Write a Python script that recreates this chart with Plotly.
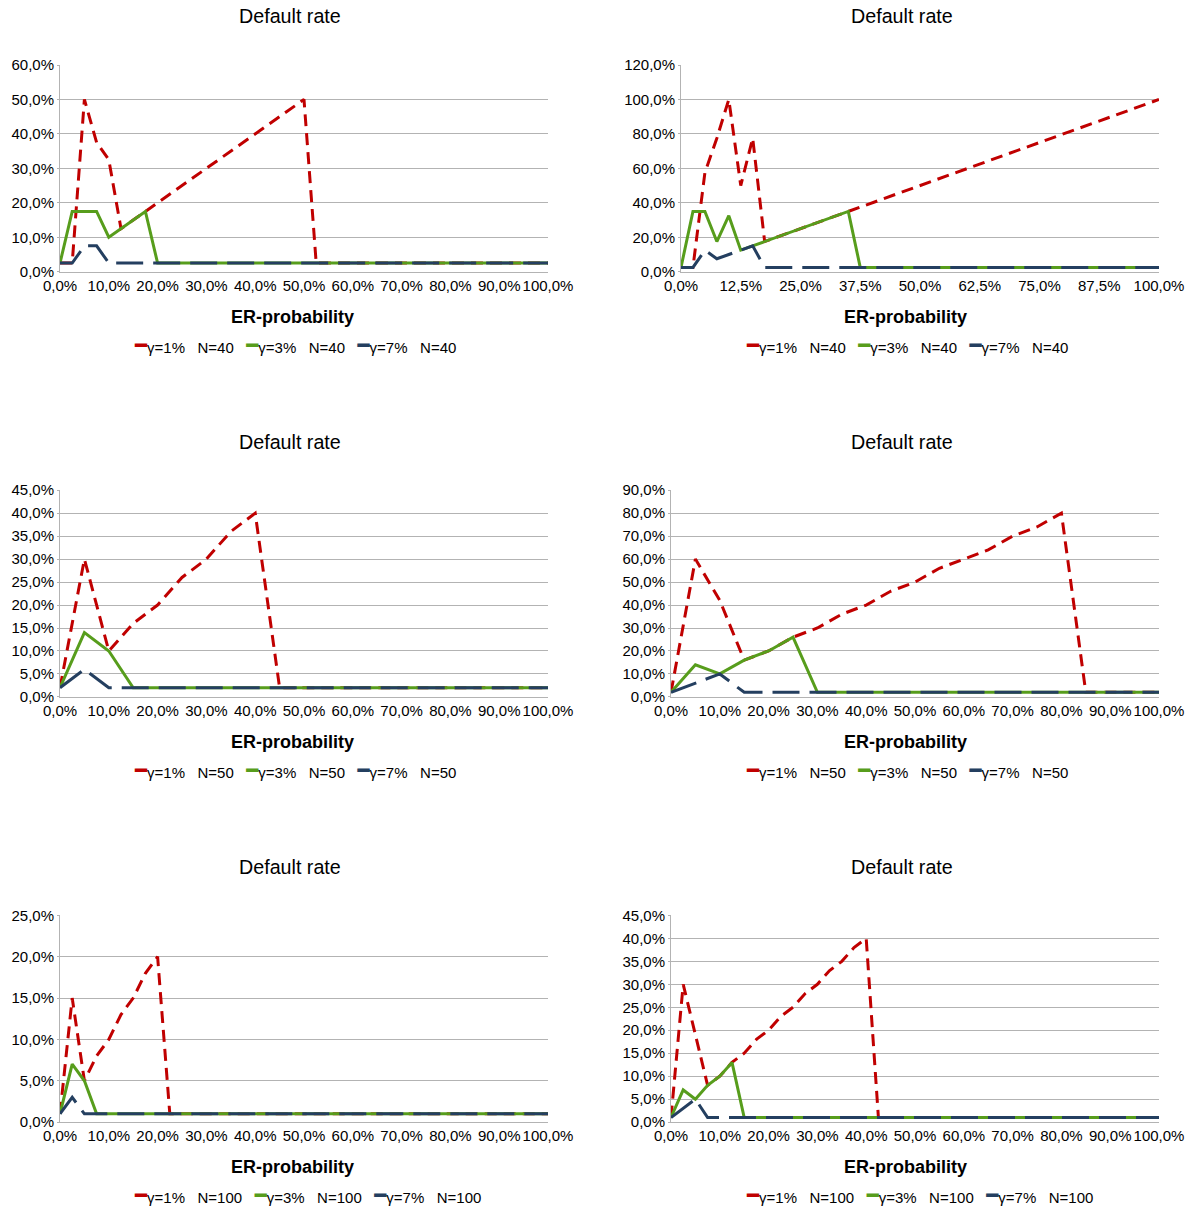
import plotly.graph_objects as go

W, H = 1197, 1212
RED, GREEN, BLUE = "#c00000", "#579d1c", "#243f60"
GRID = "#b3b3b3"
FONT = "Liberation Sans, Arial, sans-serif"

# ---------------- data (values in %) ----------------
X_STEP_2_5 = [0, 2.5, 5, 7.5, 10, 12.5, 15, 17.5, 20, 22.5,
              25, 27.5, 30, 32.5, 35, 37.5, 40, 42.5, 45, 47.5,
              50, 52.5, 55, 57.5, 60, 62.5, 65, 67.5, 70, 72.5,
              75, 77.5, 80, 82.5, 85, 87.5, 90, 92.5, 95, 97.5,
              100]
X_STEP_5 = [0, 5, 10, 15, 20, 25, 30, 35, 40, 45,
            50, 55, 60, 65, 70, 75, 80, 85, 90, 95,
            100]

# panel 1: N=40
P1_G1 = [2.5, 2.5, 50, 37.5, 32.5, 12.5, 15, 17.5, 20, 22.5,
         25, 27.5, 30, 32.5, 35, 37.5, 40, 42.5, 45, 47.5,
         50, 2.5, 2.5, 2.5, 2.5, 2.5, 2.5, 2.5, 2.5, 2.5,
         2.5, 2.5, 2.5, 2.5, 2.5, 2.5, 2.5, 2.5, 2.5, 2.5,
         2.5]
P1_G3 = [2.5, 17.5, 17.5, 17.5, 10, 12.5, 15, 17.5, 2.5, 2.5,
         2.5, 2.5, 2.5, 2.5, 2.5, 2.5, 2.5, 2.5, 2.5, 2.5,
         2.5, 2.5, 2.5, 2.5, 2.5, 2.5, 2.5, 2.5, 2.5, 2.5,
         2.5, 2.5, 2.5, 2.5, 2.5, 2.5, 2.5, 2.5, 2.5, 2.5,
         2.5]
P1_G7 = [2.5, 2.5, 7.5, 7.5, 2.5, 2.5, 2.5, 2.5, 2.5, 2.5,
         2.5, 2.5, 2.5, 2.5, 2.5, 2.5, 2.5, 2.5, 2.5, 2.5,
         2.5, 2.5, 2.5, 2.5, 2.5, 2.5, 2.5, 2.5, 2.5, 2.5,
         2.5, 2.5, 2.5, 2.5, 2.5, 2.5, 2.5, 2.5, 2.5, 2.5,
         2.5]

# panel 2: N=40
P2_G1 = [2.5, 2.5, 57.5, 77.5, 100, 50, 77.5, 17.5, 20, 22.5,
         25, 27.5, 30, 32.5, 35, 37.5, 40, 42.5, 45, 47.5,
         50, 52.5, 55, 57.5, 60, 62.5, 65, 67.5, 70, 72.5,
         75, 77.5, 80, 82.5, 85, 87.5, 90, 92.5, 95, 97.5,
         100]
P2_G3 = [2.5, 35, 35, 17.5, 32.5, 12.5, 15, 17.5, 20, 22.5,
         25, 27.5, 30, 32.5, 35, 2.5, 2.5, 2.5, 2.5, 2.5,
         2.5, 2.5, 2.5, 2.5, 2.5, 2.5, 2.5, 2.5, 2.5, 2.5,
         2.5, 2.5, 2.5, 2.5, 2.5, 2.5, 2.5, 2.5, 2.5, 2.5,
         2.5]
P2_G7 = [2.5, 2.5, 12.5, 7.5, 10, 12.5, 15, 2.5, 2.5, 2.5,
         2.5, 2.5, 2.5, 2.5, 2.5, 2.5, 2.5, 2.5, 2.5, 2.5,
         2.5, 2.5, 2.5, 2.5, 2.5, 2.5, 2.5, 2.5, 2.5, 2.5,
         2.5, 2.5, 2.5, 2.5, 2.5, 2.5, 2.5, 2.5, 2.5, 2.5,
         2.5]

# panel 3: N=50
P3_G1 = [2, 30, 10, 16, 20, 26, 30, 36, 40, 2,
         2, 2, 2, 2, 2, 2, 2, 2, 2, 2,
         2]
P3_G3 = [2, 14, 10, 2, 2, 2, 2, 2, 2, 2,
         2, 2, 2, 2, 2, 2, 2, 2, 2, 2,
         2]
P3_G7 = [2, 6, 2, 2, 2, 2, 2, 2, 2, 2,
         2, 2, 2, 2, 2, 2, 2, 2, 2, 2,
         2]

# panel 4: N=50
P4_G1 = [2, 60, 42, 16, 20, 26, 30, 36, 40, 46,
         50, 56, 60, 64, 70, 74, 80, 2, 2, 2,
         2]
P4_G3 = [2, 14, 10, 16, 20, 26, 2, 2, 2, 2,
         2, 2, 2, 2, 2, 2, 2, 2, 2, 2,
         2]
P4_G7 = [2, 6, 10, 2, 2, 2, 2, 2, 2, 2,
         2, 2, 2, 2, 2, 2, 2, 2, 2, 2,
         2]

# panel 5: N=100
P5_G1 = [1, 15, 5, 8, 10, 13, 15, 18, 20, 1,
         1, 1, 1, 1, 1, 1, 1, 1, 1, 1,
         1, 1, 1, 1, 1, 1, 1, 1, 1, 1,
         1, 1, 1, 1, 1, 1, 1, 1, 1, 1,
         1]
P5_G3 = [1, 7, 5, 1, 1, 1, 1, 1, 1, 1,
         1, 1, 1, 1, 1, 1, 1, 1, 1, 1,
         1, 1, 1, 1, 1, 1, 1, 1, 1, 1,
         1, 1, 1, 1, 1, 1, 1, 1, 1, 1,
         1]
P5_G7 = [1, 3, 1, 1, 1, 1, 1, 1, 1, 1,
         1, 1, 1, 1, 1, 1, 1, 1, 1, 1,
         1, 1, 1, 1, 1, 1, 1, 1, 1, 1,
         1, 1, 1, 1, 1, 1, 1, 1, 1, 1,
         1]

# panel 6: N=100
P6_G1 = [1, 30, 19, 8, 10, 13, 15, 18, 20, 23,
         25, 28, 30, 33, 35, 38, 40, 1, 1, 1,
         1, 1, 1, 1, 1, 1, 1, 1, 1, 1,
         1, 1, 1, 1, 1, 1, 1, 1, 1, 1,
         1]
P6_G3 = [1, 7, 5, 8, 10, 13, 1, 1, 1, 1,
         1, 1, 1, 1, 1, 1, 1, 1, 1, 1,
         1, 1, 1, 1, 1, 1, 1, 1, 1, 1,
         1, 1, 1, 1, 1, 1, 1, 1, 1, 1,
         1]
P6_G7 = [1, 3, 5, 1, 1, 1, 1, 1, 1, 1,
         1, 1, 1, 1, 1, 1, 1, 1, 1, 1,
         1, 1, 1, 1, 1, 1, 1, 1, 1, 1,
         1, 1, 1, 1, 1, 1, 1, 1, 1, 1,
         1]

N_VALUES = [40, 40, 50, 50, 100, 100]
Y_MAX = [60, 120, 45, 90, 25, 45]
Y_DTICK = [10, 20, 5, 10, 5, 5]
X_DTICK = [10, 12.5, 10, 10, 10, 10]
GAMMA_LABELS = ["γ=1%", "γ=3%", "γ=7%"]
TITLE = "Default rate"
X_TITLE = "ER-probability"

PANEL_X = [X_STEP_2_5, X_STEP_2_5, X_STEP_5, X_STEP_5, X_STEP_2_5, X_STEP_2_5]
PANEL_SERIES = [
    [P1_G1, P1_G3, P1_G7],
    [P2_G1, P2_G3, P2_G7],
    [P3_G1, P3_G3, P3_G7],
    [P4_G1, P4_G3, P4_G7],
    [P5_G1, P5_G3, P5_G7],
    [P6_G1, P6_G3, P6_G7],
]

# ---------------- styling / layout ----------------
COLORS = [RED, GREEN, BLUE]
DASHES = ["12px,7px", "solid", "27px,10px"]

# plot-area pixel boxes (left, right) per panel, rows (top, bottom)
X_BOX = [(60, 548), (681, 1159), (60, 548), (671, 1159), (60, 548), (671, 1159)]
ROW_BOX = [(65, 271.7), (490.2, 696.9), (915.4, 1122.1)]
ROW_SHIFT = [0, 425.2, 850.4]
TITLE_X = [290, 902]
XTITLE_X = [292.5, 905]
LEGEND_X = [131.7, 743.5]


def px(xp):
    return xp / W


def py(yp):
    return 1 - yp / H


fig = go.Figure()
layout = dict(
    template="none",
    width=W, height=H, autosize=False,
    margin=dict(l=0, r=0, t=0, b=0, pad=0),
    paper_bgcolor="white", plot_bgcolor="white",
    separators=", ",
    showlegend=False,
    font=dict(family=FONT, size=15, color="#000000"),
    annotations=[],
)

SYM = ('<span style="font-family:DejaVu Sans;font-size:20px;'
       'baseline-shift:1px;color:{c}">━</span>')
NB = "\u00a0"

for i in range(6):
    n = i + 1
    xs = PANEL_X[i]
    col = i % 2
    row = i // 2
    xa = "x" if n == 1 else f"x{n}"
    ya = "y" if n == 1 else f"y{n}"
    for ser, c, d, lab in zip(PANEL_SERIES[i], COLORS, DASHES, GAMMA_LABELS):
        assert len(ser) == len(xs)
        fig.add_trace(go.Scatter(
            x=xs, y=ser, mode="lines", name=f"{lab}   N={N_VALUES[i]}",
            line=dict(color=c, width=3, dash=d),
            xaxis=xa, yaxis=ya, hoverinfo="x+y+name",
        ))
    x0, x1 = X_BOX[i]
    y0, y1 = ROW_BOX[row]
    layout["xaxis" if n == 1 else f"xaxis{n}"] = dict(
        domain=[px(x0), px(x1)], anchor=ya, automargin=False,
        range=[0, 100], tick0=0, dtick=X_DTICK[i], tickangle=0,
        tickformat=".1f", ticksuffix="%",
        showgrid=False, zeroline=False,
        showline=True, linecolor=GRID, linewidth=1,
        ticks="", tickfont=dict(family=FONT, size=15, color="#000000"),
        fixedrange=True,
    )
    layout["yaxis" if n == 1 else f"yaxis{n}"] = dict(
        domain=[py(y1), py(y0)], anchor=xa, automargin=False,
        range=[0, Y_MAX[i]], tick0=0, dtick=Y_DTICK[i],
        tickformat=".1f", ticksuffix="%",
        showgrid=True, gridcolor=GRID, gridwidth=1,
        zeroline=False, showline=True, linecolor=GRID, linewidth=1,
        ticks="outside", ticklen=2, tickcolor=GRID,
        tickfont=dict(family=FONT, size=15, color="#000000"),
        fixedrange=True,
    )
    shift = ROW_SHIFT[row]
    # chart title
    layout["annotations"].append(dict(
        text=TITLE, xref="paper", yref="paper",
        x=px(TITLE_X[col]), y=py(16.3 + shift),
        xanchor="center", yanchor="middle", showarrow=False,
        font=dict(family=FONT, size=19.7, color="#000000"),
    ))
    # x-axis title
    layout["annotations"].append(dict(
        text=f"<b>{X_TITLE}</b>", xref="paper", yref="paper",
        x=px(XTITLE_X[col]), y=py(316.7 + shift),
        xanchor="center", yanchor="middle", showarrow=False,
        font=dict(family=FONT, size=18, color="#000000"),
    ))
    # legend
    parts = [SYM.format(c=c) + lab + NB * 3 + f"N={N_VALUES[i]}"
             for lab, c in zip(GAMMA_LABELS, COLORS)]
    layout["annotations"].append(dict(
        text=(NB * 3).join(parts), xref="paper", yref="paper",
        x=px(LEGEND_X[col]), y=py(345 + shift),
        xanchor="left", yanchor="middle", showarrow=False,
        font=dict(family=FONT, size=15, color="#000000"),
    ))

fig.update_layout(**layout)
fig.write_html(
    "out.html",
    config={"displayModeBar": False},
    post_script="document.body.style.margin='0';document.body.style.overflow='hidden';",
)
